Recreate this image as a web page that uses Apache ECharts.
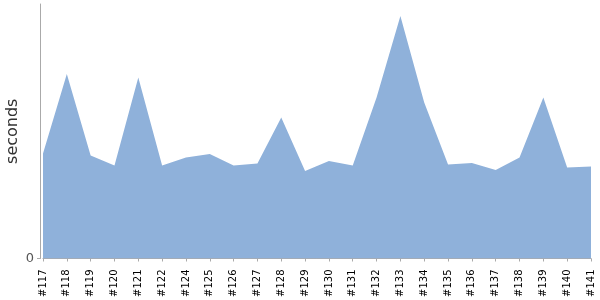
<!DOCTYPE html>
<html><head><meta charset="utf-8">
<script src="https://cdn.jsdelivr.net/npm/echarts@6/dist/echarts.min.js"></script>
<style>html,body{margin:0;padding:0;background:#fff}#c{width:600px;height:300px}</style>
</head><body><div id="c"></div>
<script>
const categories = ['#117','#118','#119','#120','#121','#122','#124','#125','#126','#127','#128','#129','#130','#131','#132','#133','#134','#135','#136','#137','#138','#139','#140','#141'];
const seconds = [21.0, 36.9, 20.6, 18.6, 36.2, 18.6, 20.2, 20.9, 18.6, 19.0, 28.2, 17.5, 19.5, 18.6, 32.2, 48.5, 31.2, 18.8, 19.1, 17.7, 20.2, 32.2, 18.2, 18.4];
const yMax = 50.9;
const yLabels = [0];

const chart = echarts.init(document.getElementById('c'), null, {renderer: 'canvas'});
chart.setOption({
  animation: false,
  grid: {left: 43, right: 9, top: 4, bottom: 41.5, containLabel: false, outerBoundsMode: 'none'},
  xAxis: {
    type: 'category', data: categories, boundaryGap: false, offset: 4,
    axisLine: {lineStyle: {color: '#aaaaaa', width: 1}},
    axisTick: {alignWithLabel: true, length: 3, lineStyle: {color: '#aaaaaa'}},
    axisLabel: {rotate: 90, interval: 0, color: '#000', fontFamily: 'DejaVu Sans', fontSize: 10, margin: 7}
  },
  yAxis: {
    type: 'value', min: 0, max: yMax, offset: 3,
    name: 'seconds', nameLocation: 'middle', nameGap: 19, nameRotate: 90, nameMoveOverlap: false,
    nameTextStyle: {color: '#333', fontFamily: 'DejaVu Sans', fontSize: 16},
    splitLine: {show: false},
    axisLine: {show: true, lineStyle: {color: '#aaaaaa', width: 1}},
    axisTick: {show: true, length: 3, customValues: yLabels, lineStyle: {color: '#aaaaaa'}},
    axisLabel: {customValues: yLabels, color: '#555', fontFamily: 'DejaVu Sans', fontSize: 13, margin: 6}
  },
  series: [{
    type: 'line', data: seconds, symbol: 'none',
    lineStyle: {width: 0}, areaStyle: {color: '#8fb1da', opacity: 1}
  }]
});
</script></body></html>
